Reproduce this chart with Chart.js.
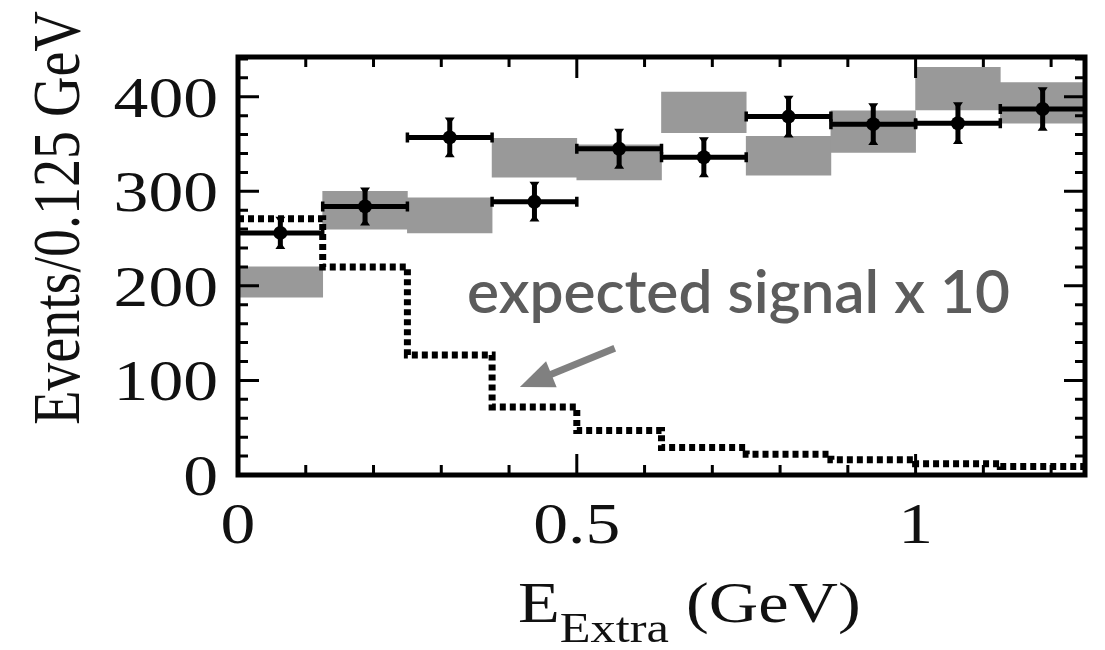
<!DOCTYPE html>
<html><head><meta charset="utf-8">
<script src="https://cdn.jsdelivr.net/npm/chart.js@4.4.0/dist/chart.umd.min.js"></script>
<style>html,body{margin:0;padding:0;background:#fff;} canvas{display:block;}</style>
</head><body>
<canvas id="c" width="1105" height="650"></canvas>
<script>
// ---- data ----
const binCenters = [0.0625, 0.1875, 0.3125, 0.4375, 0.5625, 0.6875, 0.8125, 0.9375, 1.0625, 1.1875];
const binEdges   = [0, 0.125, 0.25, 0.375, 0.5, 0.625, 0.75, 0.875, 1.0, 1.125, 1.25];
const binHalfWidth = 0.0625;
const dataCounts = [256, 284, 357, 289, 345, 336, 379, 371, 372, 387];
const dataErrors = [16, 19, 20, 20, 20, 20, 21, 21, 21, 22];
const bkgLow  = [188, 260, 256, 315, 312, 362, 317, 341, 386, 372];
const bkgHigh = [220, 300, 293, 356, 349, 405, 358, 385, 431, 415];
const signalX10 = [271, 220, 127, 72, 47, 29, 22, 16, 12, 9];
const xTickValues = [0, 0.5, 1];
const xTickLabels = ['0', '0.5', '1'];
const yTickValues = [0, 100, 200, 300, 400];
const yTickLabels = ['0', '100', '200', '300', '400'];
const xMinorStep = 0.1, yMinorStep = 20;
const annotationText = 'expected signal x 10';
const annotationPos = {x: 0.338, y: 171};
const arrowFrom = {x: 0.556, y: 134};
const arrowTo = {x: 0.416, y: 93};

const STRETCH = 1.2;
const SERIF = '"Liberation Serif", "Times New Roman", serif';

const bkgData = binCenters.map((c, i) => ({x: c, y: [bkgLow[i], bkgHigh[i]]}));
const sigData = binEdges.map((e, i) => ({x: e, y: signalX10[Math.min(i, signalX10.length - 1)]}));
const ptsData = binCenters.map((c, i) => ({x: c, y: dataCounts[i]}));

function stretchedText(ctx, text, x, y, align, font, sx) {
  ctx.save();
  ctx.font = font;
  ctx.fillStyle = '#111';
  ctx.textAlign = align;
  ctx.textBaseline = 'alphabetic';
  ctx.translate(x, y);
  ctx.scale(sx, 1);
  ctx.fillText(text, 0, 0);
  ctx.restore();
}

const decor = {
  id: 'decor',
  afterDatasetsDraw(chart) {
    const ctx = chart.ctx, xs = chart.scales.x, ys = chart.scales.y;
    ctx.save();
    ctx.strokeStyle = '#000';
    ctx.fillStyle = '#000';
    ctx.lineWidth = 5;
    ctx.lineCap = 'butt';
    for (let i = 0; i < binCenters.length; i++) {
      const px = xs.getPixelForValue(binCenters[i]);
      const py = ys.getPixelForValue(dataCounts[i]);
      const xl = xs.getPixelForValue(binCenters[i] - binHalfWidth);
      const xr = xs.getPixelForValue(binCenters[i] + binHalfWidth);
      const yt = ys.getPixelForValue(dataCounts[i] + dataErrors[i]);
      const yb = ys.getPixelForValue(dataCounts[i] - dataErrors[i]);
      ctx.lineWidth = 5;
      ctx.beginPath();
      ctx.moveTo(xl, py); ctx.lineTo(xr, py);
      ctx.moveTo(px, yt); ctx.lineTo(px, yb);
      ctx.stroke();
      ctx.lineWidth = 3.5;
      ctx.beginPath();
      ctx.moveTo(xl, py - 5); ctx.lineTo(xl, py + 5);
      ctx.moveTo(xr, py - 5); ctx.lineTo(xr, py + 5);
      ctx.stroke();
      // triangular caps on vertical error bars
      ctx.beginPath();
      ctx.moveTo(px - 5, yt - 1); ctx.lineTo(px + 5, yt - 1); ctx.lineTo(px, yt + 6); ctx.closePath();
      ctx.moveTo(px - 5, yb + 1); ctx.lineTo(px + 5, yb + 1); ctx.lineTo(px, yb - 6); ctx.closePath();
      ctx.fill();
    }
    ctx.restore();
  },
  afterDraw(chart) {
    const ctx = chart.ctx, xs = chart.scales.x, ys = chart.scales.y;
    const a = chart.chartArea;
    ctx.save();
    // frame
    ctx.strokeStyle = '#000';
    ctx.lineWidth = 5;
    ctx.strokeRect(a.left, a.top, a.right - a.left, a.bottom - a.top);
    // ticks
    ctx.lineWidth = 3;
    ctx.beginPath();
    for (let v = 0; v <= ys.max + 1e-9; v += yMinorStep) {
      const major = Math.abs(v % 100) < 1e-6;
      const len = major ? 21 : 10;
      const py = ys.getPixelForValue(v);
      ctx.moveTo(a.left, py); ctx.lineTo(a.left + len, py);
      ctx.moveTo(a.right, py); ctx.lineTo(a.right - len, py);
    }
    for (let k = 0; k * xMinorStep <= xs.max + 1e-9; k++) {
      const v = k * xMinorStep;
      const major = k % 5 === 0;
      const len = major ? 21 : 10;
      const px = xs.getPixelForValue(v);
      ctx.moveTo(px, a.bottom); ctx.lineTo(px, a.bottom - len);
      ctx.moveTo(px, a.top); ctx.lineTo(px, a.top + len);
    }
    ctx.stroke();
    // tick labels
    const tickFont = '58px ' + SERIF;
    yTickValues.forEach((v, i) => {
      stretchedText(ctx, yTickLabels[i], a.left - 20, ys.getPixelForValue(v) + 20, 'right', tickFont, STRETCH);
    });
    xTickValues.forEach((v, i) => {
      stretchedText(ctx, xTickLabels[i], xs.getPixelForValue(v), a.bottom + 68, 'center', tickFont, STRETCH);
    });
    // y title (rotated)
    ctx.save();
    ctx.font = '56px ' + SERIF;
    ctx.fillStyle = '#111';
    ctx.textAlign = 'center';
    ctx.textBaseline = 'alphabetic';
    ctx.translate(79, 218);
    ctx.scale(STRETCH, 1);
    ctx.rotate(-Math.PI / 2);
    ctx.fillText('Events/0.125 GeV', 0, 0);
    ctx.restore();
    // x title: E_Extra (GeV)
    const x0 = 518;
    const base = 622;
    ctx.save();
    ctx.font = '57px ' + SERIF;
    const wE = ctx.measureText('E').width * STRETCH;
    ctx.font = '42px ' + SERIF;
    const wSub = ctx.measureText('Extra').width * STRETCH;
    ctx.restore();
    stretchedText(ctx, 'E', x0, base, 'left', '57px ' + SERIF, STRETCH);
    stretchedText(ctx, 'Extra', x0 + wE, base + 20, 'left', '42px ' + SERIF, STRETCH);
    stretchedText(ctx, ' (GeV)', x0 + wE + wSub, base, 'left', '57px ' + SERIF, STRETCH);
    // annotation text
    ctx.save();
    ctx.font = '600 60px Lato, "Open Sans", sans-serif';
    const w = ctx.measureText(annotationText).width;
    const sx = 543 / w;
    ctx.fillStyle = '#5c5c5c';
    ctx.textAlign = 'left';
    ctx.textBaseline = 'alphabetic';
    ctx.translate(xs.getPixelForValue(annotationPos.x), ys.getPixelForValue(annotationPos.y));
    ctx.scale(sx, 1);
    ctx.fillText(annotationText, 0, 0);
    ctx.restore();
    // arrow
    const fx = xs.getPixelForValue(arrowFrom.x), fy = ys.getPixelForValue(arrowFrom.y);
    const tx = xs.getPixelForValue(arrowTo.x), ty = ys.getPixelForValue(arrowTo.y);
    const ang = Math.atan2(ty - fy, tx - fx);
    const hl = 34, hw = 14;
    const bx = tx - hl * Math.cos(ang), by = ty - hl * Math.sin(ang);
    ctx.strokeStyle = '#808080';
    ctx.fillStyle = '#808080';
    ctx.lineWidth = 7;
    ctx.beginPath();
    ctx.moveTo(fx, fy); ctx.lineTo(bx + 4 * Math.cos(ang), by + 4 * Math.sin(ang));
    ctx.stroke();
    ctx.beginPath();
    ctx.moveTo(tx, ty);
    ctx.lineTo(bx + hw * Math.sin(ang), by - hw * Math.cos(ang));
    ctx.lineTo(bx - hw * Math.sin(ang), by + hw * Math.cos(ang));
    ctx.closePath();
    ctx.fill();
    ctx.restore();
  }
};

new Chart(document.getElementById('c'), {
  type: 'bar',
  data: {
    datasets: [
      {
        type: 'scatter',
        label: 'Data',
        data: ptsData,
        showLine: false,
        pointRadius: 7,
        pointBackgroundColor: '#000',
        pointBorderColor: '#000',
        pointBorderWidth: 0,
        order: 0
      },
      {
        type: 'line',
        label: 'Expected signal x 10',
        data: sigData,
        stepped: 'before',
        borderColor: '#000',
        borderWidth: 7,
        borderDash: [6, 4],
        borderCapStyle: 'butt',
        pointRadius: 0,
        fill: false,
        order: 1
      },
      {
        type: 'bar',
        label: 'Background',
        data: bkgData,
        backgroundColor: '#999999',
        borderWidth: 0,
        barPercentage: 1,
        categoryPercentage: 1,
        grouped: false,
        order: 2
      }
    ]
  },
  options: {
    responsive: false,
    animation: false,
    layout: { padding: { top: 57, right: 20, left: 0, bottom: 0 }, autoPadding: false },
    plugins: { legend: { display: false }, tooltip: { enabled: false } },
    scales: {
      x: {
        type: 'linear', min: 0, max: 1.25, offset: false,
        ticks: { display: false, stepSize: 0.125 },
        grid: { display: false }, border: { display: false },
        afterFit: s => { s.height = 175; }
      },
      y: {
        type: 'linear', min: 0, max: 442,
        ticks: { display: false, stepSize: 20 },
        grid: { display: false }, border: { display: false },
        afterFit: s => { s.width = 238; }
      }
    }
  },
  plugins: [decor]
});
</script>
</body></html>
